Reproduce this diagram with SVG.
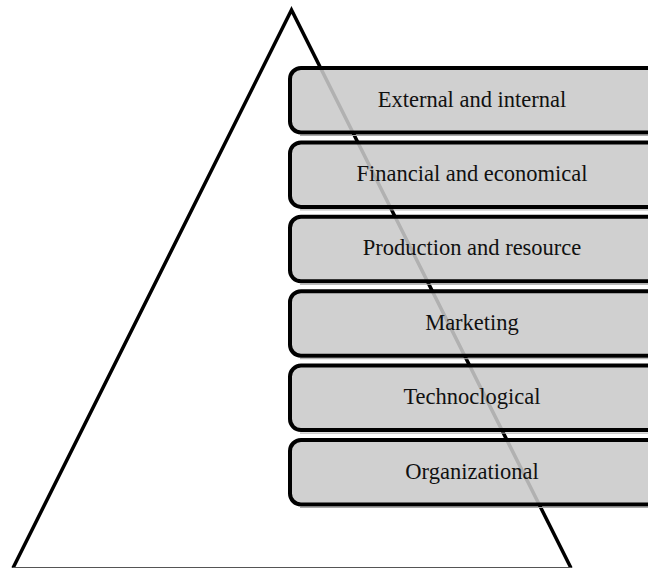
<svg xmlns="http://www.w3.org/2000/svg" width="648" height="568" viewBox="0 0 648 568">
<style>
.box{fill:#cacaca;fill-opacity:0.88;stroke:#000;stroke-width:4}
.sh{stroke:#aaa;stroke-width:1}
.lbl{font-family:"Liberation Serif","Times New Roman",serif;font-size:22.5px;fill:#111;text-anchor:middle}
</style>
<rect width="648" height="568" fill="#fff"/>
<g id="pyramid">
<polyline points="13,568 291.5,10 571,568" fill="none" stroke="#000" stroke-width="3.5" stroke-linejoin="miter"/>
<line x1="13" y1="567.5" x2="571" y2="567.5" stroke="#555" stroke-width="1"/>
</g>
<g id="n1"><line class="sh" x1="300" y1="135.5" x2="648" y2="135.5"/><rect class="box" x="290" y="68" width="400" height="64.5" rx="11"/><text class="lbl" x="472" y="106.5">External and internal</text></g>
<g id="n2"><line class="sh" x1="300" y1="209.9" x2="648" y2="209.9"/><rect class="box" x="290" y="142.4" width="400" height="64.5" rx="11"/><text class="lbl" x="472" y="180.9">Financial and economical</text></g>
<g id="n3"><line class="sh" x1="300" y1="284.3" x2="648" y2="284.3"/><rect class="box" x="290" y="216.8" width="400" height="64.5" rx="11"/><text class="lbl" x="472" y="255.3">Production and resource</text></g>
<g id="n4"><line class="sh" x1="300" y1="358.7" x2="648" y2="358.7"/><rect class="box" x="290" y="291.2" width="400" height="64.5" rx="11"/><text class="lbl" x="472" y="329.7">Marketing</text></g>
<g id="n5"><line class="sh" x1="300" y1="433.1" x2="648" y2="433.1"/><rect class="box" x="290" y="365.6" width="400" height="64.5" rx="11"/><text class="lbl" x="472" y="404.1">Technoclogical</text></g>
<g id="n6"><line class="sh" x1="300" y1="507.5" x2="648" y2="507.5"/><rect class="box" x="290" y="440" width="400" height="64.5" rx="11"/><text class="lbl" x="472" y="478.5">Organizational</text></g>
<g id="connectors"></g>
</svg>
